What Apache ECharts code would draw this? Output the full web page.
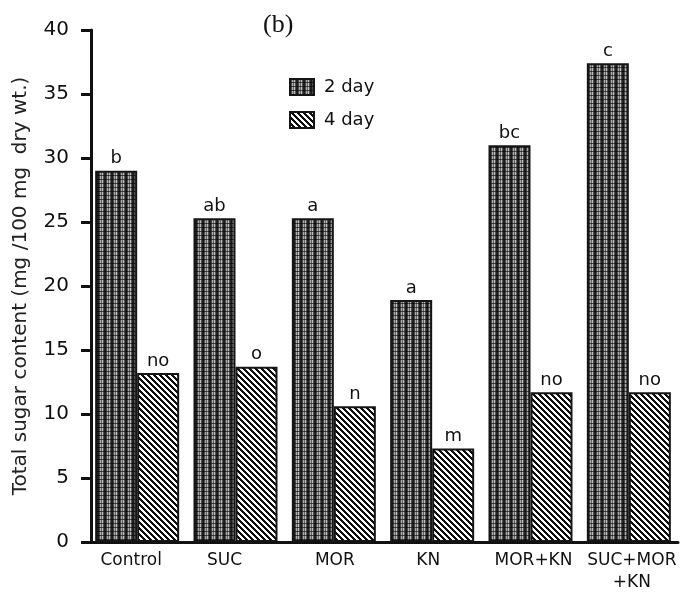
<!DOCTYPE html>
<html><head><meta charset="utf-8">
<script src="https://cdn.jsdelivr.net/npm/echarts@6/dist/echarts.min.js"></script>
<style>html,body{margin:0;padding:0;background:#fff}#c{width:682px;height:594px}</style>
</head><body><div id="c"></div>
<script>
const categories = ['Control', 'SUC', 'MOR', 'KN', 'MOR+KN', 'SUC+MOR\n+KN'];
const seriesNames = ['2 day', '4 day'];
const day2 = [29.0, 25.3, 25.3, 18.9, 31.0, 37.4];
const day4 = [13.2, 13.7, 10.6, 7.3, 11.7, 11.7];
const letters2 = ['b', 'ab', 'a', 'a', 'bc', 'c'];
const letters4 = ['no', 'o', 'n', 'm', 'no', 'no'];
const yTicks = [0, 5, 10, 15, 20, 25, 30, 35, 40];

// horizontal nudge of each category label (style only)
const labelShift = [-6, -11, 1, -4, 3, 3];

function tile(w, h, fn) {
  const c = document.createElement('canvas');
  c.width = w; c.height = h;
  const ctx = c.getContext('2d');
  const img = ctx.createImageData(w, h);
  for (let y = 0; y < h; y++) for (let x = 0; x < w; x++) {
    const v = fn(x, y); const i = (y * w + x) * 4;
    img.data[i] = v; img.data[i + 1] = v; img.data[i + 2] = v; img.data[i + 3] = 255;
  }
  ctx.putImageData(img, 0, 0);
  return c;
}
const colTone = [30, 75, 170, 100, 190, 85, 35];
const dotTile = tile(7, 4, (x, y) => y === 3 ? Math.round(colTone[x] * 0.4) : colTone[x]);
const stripeTile = tile(6, 6, (x, y) => (((x - y) % 6 + 6) % 6) < 3 ? 15 : 255);

const chart = echarts.init(document.getElementById('c'), null, {renderer: 'canvas'});
const F = '"DejaVu Sans", "Liberation Sans", sans-serif';
function mk(name, data, labels, img) {
  return {
    name, type: 'bar', data, barWidth: 42, barGap: '0%',
    itemStyle: {color: {image: img, repeat: 'repeat'}, borderColor: '#151515', borderWidth: 2},
    label: {show: true, position: 'top', distance: 3, color: '#111', fontSize: 18, fontFamily: F,
      formatter: p => labels[p.dataIndex]},
    emphasis: {disabled: true}
  };
}
const catData = categories.map((c, i) => {
  const s = labelShift[i];
  return {value: c, textStyle: {padding: s < 0 ? [0, -2 * s, 0, 0] : [0, 0, 0, 2 * s]}};
});
chart.setOption({
  animation: false,
  title: {text: '(b)', left: 258, top: 7, textStyle: {fontFamily: '"Liberation Serif", "DejaVu Serif", serif', fontWeight: 'normal', fontSize: 26, color: '#111'}},
  legend: {orient: 'vertical', left: 289, top: 78, padding: 0, itemWidth: 24, itemHeight: 16, itemGap: 15, icon: 'rect',
    data: seriesNames, textStyle: {fontFamily: F, fontSize: 18, color: '#111', padding: [0, 0, 0, 5]}},
  grid: {left: 88, right: 4, top: 30, bottom: 51},
  xAxis: {type: 'category', data: catData,
    axisLine: {lineStyle: {color: '#111', width: 3}}, axisTick: {show: false},
    axisLabel: {color: '#111', fontSize: 17, fontFamily: F, margin: 8, lineHeight: 22, interval: 0}},
  yAxis: {type: 'value', min: 0, max: 40, interval: 5, offset: -3,
    name: 'Total sugar content (mg /100 mg  dry wt.)', nameLocation: 'middle', nameGap: 60,
    nameTextStyle: {fontFamily: F, fontSize: 20, color: '#222'},
    splitLine: {show: false},
    axisLine: {show: true, lineStyle: {color: '#111', width: 3}},
    axisTick: {show: true, length: 10, lineStyle: {color: '#111', width: 3}},
    axisLabel: {color: '#111', fontSize: 20, fontFamily: F, margin: 22,
      formatter: v => yTicks.includes(v) ? String(v) : ''}},
  series: [mk(seriesNames[0], day2, letters2, dotTile), mk(seriesNames[1], day4, letters4, stripeTile)]
});
</script></body></html>
